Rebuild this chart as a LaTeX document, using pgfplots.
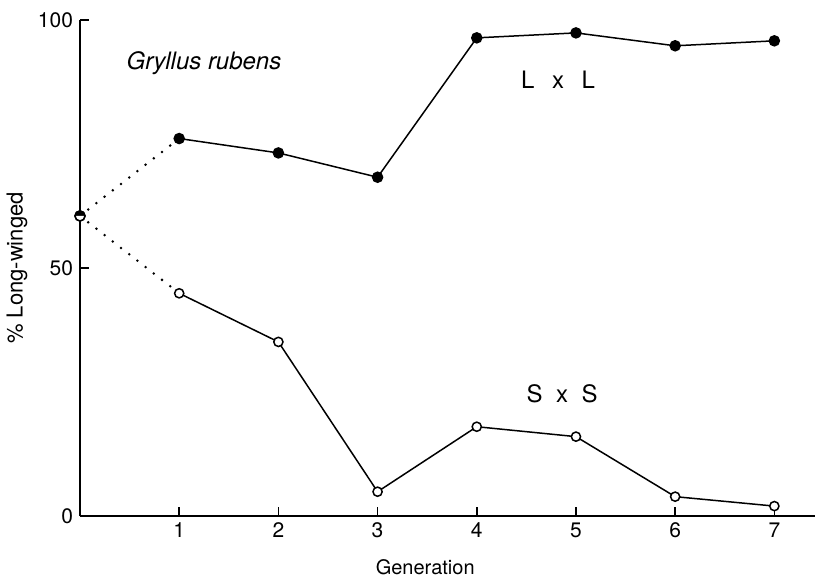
\documentclass[border=0pt]{standalone}
\usepackage{fontspec}
\setmainfont{TeX Gyre Heros}
\usepackage{pgfplots}
\pgfplotsset{compat=1.18}
\usetikzlibrary{plotmarks}
\begin{document}
\begin{tikzpicture}
\useasboundingbox (-40pt,-31pt) rectangle (368.5pt,258pt);
\begin{axis}[
  at={(0,0)}, anchor=south west,
  scale only axis, width=367.5pt, height=248pt,
  xmin=0, xmax=7.41, ymin=0, ymax=100,
  axis x line*=bottom, axis y line*=left,
  axis line style={line width=1pt,-},
  xtick={1,2,3,4,5,6,7}, ytick={0,50,100},
  xticklabel={\fontsize{10.5}{12}\selectfont\pgfmathprintnumber[assume math mode=true]{\tick}},
  yticklabel={\fontsize{10.5}{12}\selectfont\pgfmathprintnumber[assume math mode=true]{\tick}},
  tick align=inside, major tick length=4.5pt,
  tick style={line width=0.8pt,black},
  clip=false,
]
\addplot[black, line width=1.4pt, line cap=round, dash pattern=on 0pt off 5.2pt] coordinates {(0,60.5) (1,76.1)};
\addplot[black, line width=1.4pt, line cap=round, dash pattern=on 0pt off 5.2pt] coordinates {(0,60.5) (1,44.9)};
\addplot[black, line width=0.75pt, mark=*, mark size=2.5pt, mark options={solid,fill=black}] coordinates {
(1,76.1) (2,73.2) (3,68.3) (4,96.4) (5,97.4) (6,94.8) (7,95.8)};
\addplot[black, line width=0.75pt, mark=*, mark size=2.3pt, mark options={solid,fill=white,line width=0.75pt}] coordinates {
(1,44.9) (2,35.1) (3,4.9) (4,18.0) (5,16.0) (6,3.9) (7,2.0)};
\addplot[black, only marks, mark=*, mark size=2.5pt, mark options={fill=white,line width=0.75pt}] coordinates {(0,60.5)};
\addplot[black, only marks, mark=halfcircle*, mark size=2.5pt, mark options={fill=black,line width=0.75pt}] coordinates {(0,60.5)};
\node[font=\fontsize{12}{14}\selectfont\itshape] at (axis cs:1.25,91.3) {Gryllus rubens};
\node[font=\fontsize{12}{14}\selectfont] at (axis cs:4.82,87.9) {L\hspace{0.73em}x\hspace{0.73em}L};
\node[font=\fontsize{12}{14}\selectfont] at (axis cs:4.86,24.6) {S\hspace{0.56em}x\hspace{0.56em}S};
\node[font=\fontsize{10}{12}\selectfont] at ([yshift=-25.5pt]axis cs:3.48,0) {Generation};
\node[font=\fontsize{11}{13}\selectfont, rotate=90] at ([xshift=-31.5pt]axis cs:0,50) {\% Long-winged};
\end{axis}
\end{tikzpicture}
\end{document}
